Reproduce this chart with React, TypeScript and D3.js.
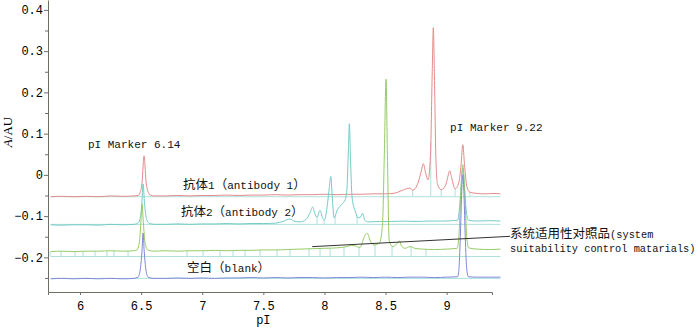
import React, { useEffect, useRef } from 'react';
import * as d3 from 'd3';

type Pt = [number, number];

// traces: [pI, A/AU]
const antibody1: Pt[] = [
  [5.76, -0.053], [5.85, -0.052], [5.95, -0.053], [6.05, -0.052], [6.15, -0.053], [6.25, -0.051], [6.35, -0.052], [6.44, -0.051],
  [6.475, -0.05], [6.495, -0.04], [6.51, -0.01], [6.518, 0.03], [6.524, 0.046], [6.53, 0.03], [6.538, -0.008], [6.553, -0.038], [6.575, -0.049], [6.61, -0.051],
  [6.7, -0.051], [6.8, -0.05], [6.9, -0.051], [7.0, -0.05], [7.1, -0.05], [7.2, -0.049], [7.3, -0.05], [7.4, -0.049], [7.5, -0.049],
  [7.6, -0.048], [7.7, -0.049], [7.8, -0.048], [7.9, -0.048], [8.0, -0.047], [8.1, -0.048], [8.2, -0.047], [8.3, -0.047], [8.4, -0.046],
  [8.5, -0.046], [8.58, -0.044], [8.64, -0.037], [8.7, -0.032], [8.722, -0.037], [8.76, -0.024], [8.79, 0.006], [8.809, 0.027],
  [8.83, 0.002], [8.848, -0.012], [8.868, 0.05], [8.882, 0.25], [8.891, 0.357], [8.9, 0.24], [8.912, 0.04], [8.925, -0.022],
  [8.955, -0.036], [8.99, -0.026], [9.01, -0.004], [9.025, 0.01], [9.04, -0.006], [9.069, -0.034], [9.1, -0.018], [9.118, 0.025],
  [9.132, 0.073], [9.146, 0.025], [9.165, -0.028], [9.19, -0.042], [9.25, -0.045], [9.32, -0.046], [9.38, -0.045], [9.44, -0.046],
];

const antibody2: Pt[] = [
  [5.76, -0.121], [5.85, -0.122], [5.95, -0.121], [6.05, -0.121], [6.15, -0.122], [6.25, -0.12], [6.35, -0.121], [6.44, -0.12],
  [6.47, -0.118], [6.49, -0.108], [6.505, -0.075], [6.516, -0.022], [6.528, -0.07], [6.545, -0.108], [6.57, -0.118], [6.61, -0.12],
  [6.7, -0.12], [6.8, -0.119], [6.9, -0.12], [7.0, -0.119], [7.1, -0.119], [7.2, -0.118], [7.3, -0.119], [7.4, -0.118], [7.5, -0.118],
  [7.6, -0.117], [7.66, -0.113], [7.718, -0.107], [7.76, -0.113], [7.8, -0.114], [7.85, -0.108], [7.88, -0.093], [7.904, -0.078],
  [7.922, -0.094], [7.939, -0.103], [7.964, -0.086], [7.985, -0.105], [8.0, -0.109], [8.025, -0.07], [8.04, -0.03], [8.052, -0.004],
  [8.063, -0.05], [8.079, -0.104], [8.105, -0.085], [8.14, -0.072], [8.17, -0.06], [8.185, -0.03], [8.196, 0.06], [8.204, 0.124],
  [8.213, 0.04], [8.225, -0.05], [8.24, -0.078], [8.255, -0.09], [8.267, -0.102], [8.29, -0.104], [8.313, -0.093], [8.33, -0.11],
  [8.36, -0.114], [8.45, -0.113], [8.55, -0.113], [8.65, -0.112], [8.75, -0.113], [8.85, -0.112], [8.95, -0.112], [9.05, -0.111],
  [9.09, -0.11], [9.105, -0.08], [9.12, -0.02], [9.132, 0.015], [9.144, -0.02], [9.158, -0.08], [9.178, -0.11], [9.25, -0.112],
  [9.35, -0.111], [9.44, -0.112],
];

const suitability: Pt[] = [
  [5.76, -0.186], [5.85, -0.185], [5.95, -0.186], [6.05, -0.185], [6.15, -0.185], [6.25, -0.184], [6.35, -0.185], [6.44, -0.184],
  [6.465, -0.182], [6.485, -0.165], [6.497, -0.12], [6.507, -0.07], [6.518, -0.115], [6.532, -0.165], [6.555, -0.182], [6.6, -0.185],
  [6.7, -0.184], [6.8, -0.185], [6.9, -0.184], [7.0, -0.184], [7.1, -0.183], [7.2, -0.184], [7.3, -0.183], [7.4, -0.183], [7.5, -0.182],
  [7.6, -0.182], [7.7, -0.181], [7.8, -0.18], [7.9, -0.179], [8.0, -0.178], [8.1, -0.177], [8.182, -0.174], [8.22, -0.171],
  [8.25, -0.172], [8.291, -0.176], [8.32, -0.155], [8.332, -0.146], [8.351, -0.142], [8.375, -0.16], [8.406, -0.17], [8.45, -0.165],
  [8.475, -0.12], [8.49, 0.05], [8.504, 0.232], [8.515, 0.05], [8.53, -0.16], [8.559, -0.174], [8.59, -0.168], [8.613, -0.16],
  [8.63, -0.172], [8.66, -0.178], [8.7, -0.174], [8.74, -0.178], [8.8, -0.18], [8.9, -0.181], [9.0, -0.18], [9.085, -0.178],
  [9.1, -0.15], [9.115, -0.05], [9.132, 0.025], [9.149, -0.05], [9.164, -0.15], [9.18, -0.177], [9.25, -0.18], [9.35, -0.181],
  [9.44, -0.18],
];

const blank: Pt[] = [
  [5.76, -0.252], [5.85, -0.251], [5.95, -0.252], [6.05, -0.251], [6.15, -0.252], [6.25, -0.251], [6.35, -0.252], [6.44, -0.251],
  [6.475, -0.248], [6.495, -0.225], [6.507, -0.185], [6.516, -0.141], [6.525, -0.185], [6.537, -0.225], [6.557, -0.248], [6.6, -0.251],
  [6.7, -0.251], [6.8, -0.25], [6.9, -0.251], [7.0, -0.25], [7.1, -0.251], [7.2, -0.25], [7.3, -0.25], [7.4, -0.249], [7.5, -0.25],
  [7.6, -0.249], [7.7, -0.25], [7.8, -0.249], [7.9, -0.249], [8.0, -0.25], [8.1, -0.249], [8.2, -0.249], [8.3, -0.248], [8.4, -0.249],
  [8.5, -0.248], [8.6, -0.249], [8.7, -0.248], [8.8, -0.248], [8.9, -0.249], [9.0, -0.248], [9.09, -0.247], [9.1, -0.23],
  [9.112, -0.15], [9.122, -0.05], [9.132, 0.0], [9.142, -0.05], [9.152, -0.15], [9.165, -0.23], [9.178, -0.247], [9.25, -0.248],
  [9.35, -0.248], [9.44, -0.248],
];

// integration baselines and their drop lines
const baseAntibody1 = -0.053;
const baseAntibody2 = -0.12;
const baseSuitability = -0.198;
const baseBlank = -0.251;
const dropsAntibody1 = [8.722, 8.87, 8.955, 9.069, 9.19];
const dropsAntibody2 = [7.939, 7.997, 8.087, 8.267];
const dropsSuitability = [
  5.755, 5.845, 5.959, 6.025, 6.123, 6.221, 6.278, 6.393, 6.876, 7.007, 7.146, 7.252, 7.35,
  7.473, 7.612, 7.718, 7.874, 7.964, 8.046, 8.16, 8.283, 8.414, 8.553, 8.709, 8.831,
];

const xTicks = [6, 6.5, 7, 7.5, 8, 8.5, 9];
const yTicks = [-0.2, -0.1, 0, 0.1, 0.2, 0.3, 0.4];
const yMinorTicks = [-0.25, -0.15, -0.05, 0.05, 0.15, 0.25, 0.35];

const labels = [
  { text: 'pI Marker 6.14', pI: 6.065, A: 0.0655, size: 11 },
  { text: 'pI Marker 9.22', pI: 9.028, A: 0.107, size: 11 },
  { text: '抗体1（antibody 1）', pI: 6.843, A: -0.034, size: 11 },
  { text: '抗体2（antibody 2）', pI: 6.826, A: -0.0995, size: 11 },
  { text: '空白（blank）', pI: 6.876, A: -0.235, size: 11 },
  { text: '系统适用性对照品(system', pI: 9.519, A: -0.152, size: 10.3 },
  { text: 'suitability control matarials)', pI: 9.519, A: -0.187, size: 10.3 },
];
const pointer: Pt[] = [[7.9, -0.174], [9.519, -0.149]];

const MONO = '"Liberation Mono", "DejaVu Sans Mono", monospace';
const CJK = '"Noto Sans CJK SC", sans-serif';
const AXIS = '#6e6e66';
const DROP = '#aee0dc';

const valueAt = (trace: Pt[], p: number) => {
  const i = d3.bisector((d: Pt) => d[0]).left(trace, p);
  if (i <= 0) return trace[0][1];
  if (i >= trace.length) return trace[trace.length - 1][1];
  const [x0, y0] = trace[i - 1];
  const [x1, y1] = trace[i];
  return y0 + ((p - x0) / (x1 - x0)) * (y1 - y0);
};

const App = () => {
  const svgRef = useRef<SVGSVGElement>(null);

  useEffect(() => {
    const svg = d3.select(svgRef.current);
    svg.selectAll('*').remove();

    const x = d3.scaleLinear().domain([5.738, 9.371]).range([48, 492]);
    const y = d3.scaleLinear().domain([-0.284, 0.424]).range([292, 0]);

    // integration baselines + drop lines
    const integ = svg.append('g').attr('stroke', DROP).attr('stroke-width', 1).attr('fill', 'none');
    const sets: [number, number[], Pt[]][] = [
      [baseAntibody1, dropsAntibody1, antibody1],
      [baseAntibody2, dropsAntibody2, antibody2],
      [baseSuitability, dropsSuitability, suitability],
      [baseBlank, [], blank],
    ];
    sets.forEach(([base, drops, trace]) => {
      integ.append('line')
        .attr('x1', x(5.76)).attr('x2', x(9.44))
        .attr('y1', y(base)).attr('y2', y(base));
      drops.forEach((p) => {
        integ.append('line')
          .attr('x1', x(p)).attr('x2', x(p))
          .attr('y1', y(base)).attr('y2', y(valueAt(trace, p)));
      });
    });

    // traces
    const line = d3.line<Pt>().x((d) => x(d[0])).y((d) => y(d[1])).curve(d3.curveMonotoneX);
    const traces: [Pt[], string][] = [
      [antibody1, '#e58a8a'],
      [antibody2, '#74ccc6'],
      [suitability, '#96cc66'],
      [blank, '#8088d8'],
    ];
    traces.forEach(([data, color]) => {
      svg.append('path')
        .datum(data)
        .attr('d', line)
        .attr('fill', 'none')
        .attr('stroke', color)
        .attr('stroke-width', 1);
    });

    // axes
    const yAxis = svg.append('g')
      .attr('transform', `translate(48,0)`)
      .call(d3.axisLeft(y).tickValues(yTicks).tickSize(4).tickSizeOuter(0).tickPadding(1)
        .tickFormat((d) => (+d === 0 ? '0' : d3.format('.1f')(+d))));
    svg.append('g')
      .attr('transform', `translate(48,0)`)
      .call(d3.axisLeft(y).tickValues(yMinorTicks).tickSize(3).tickSizeOuter(0).tickFormat(() => ''))
      .call((g) => g.select('.domain').remove())
      .selectAll('line').attr('stroke', AXIS);
    const xAxis = svg.append('g')
      .attr('transform', `translate(0,292)`)
      .call(d3.axisBottom(x).tickValues(xTicks).tickSize(3).tickSizeOuter(3).tickPadding(6)
        .tickFormat((d) => String(d)));
    [yAxis, xAxis].forEach((g) => {
      g.selectAll('.domain,line').attr('stroke', AXIS);
      g.selectAll('text').attr('font-family', MONO).attr('font-size', 12).attr('fill', '#000');
    });

    // axis titles
    svg.append('text')
      .attr('x', x(7.5)).attr('y', 324)
      .attr('text-anchor', 'middle')
      .attr('font-family', MONO).attr('font-size', 12)
      .text('pI');
    const yt = svg.append('text')
      .attr('transform', 'translate(12,132) rotate(-90)')
      .attr('text-anchor', 'middle')
      .attr('font-family', '"Liberation Serif", serif').attr('font-size', 13);
    yt.append('tspan').attr('font-style', 'italic').text('A');
    yt.append('tspan').text('/AU');

    // annotations
    svg.append('line')
      .attr('x1', x(pointer[0][0])).attr('y1', y(pointer[0][1]))
      .attr('x2', x(pointer[1][0])).attr('y2', y(pointer[1][1]))
      .attr('stroke', '#333').attr('stroke-width', 1);

    labels.forEach((l) => {
      const t = svg.append('text').attr('x', x(l.pI)).attr('y', y(l.A)).attr('fill', '#111');
      l.text.split(/([\u3000-\u9fff\uff00-\uffef]+)/).filter(Boolean).forEach((run) => {
        const cjk = /[\u3000-\u9fff\uff00-\uffef]/.test(run);
        t.append('tspan')
          .attr('font-family', cjk ? CJK : MONO)
          .attr('font-size', cjk ? 12.5 : l.size)
          .text(run);
      });
    });
  }, []);

  return (
    <svg
      ref={svgRef}
      width={700}
      height={328}
      style={{ position: 'absolute', left: 0, top: 0, background: '#fff' }}
    />
  );
};

export default App;
